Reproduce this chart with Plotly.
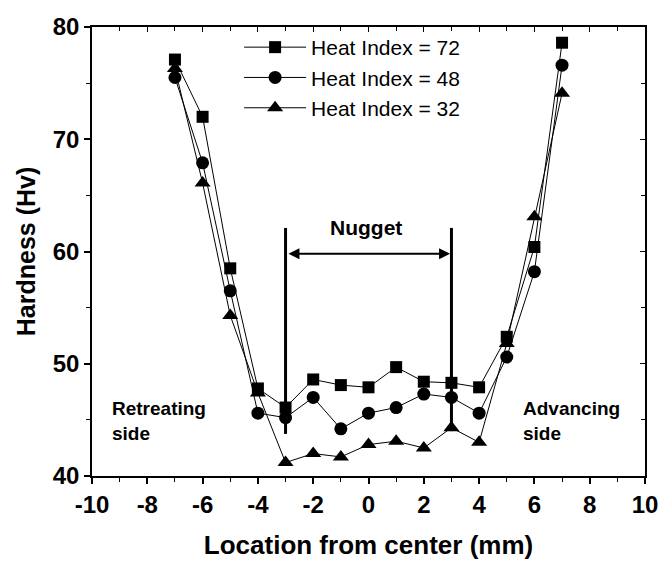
import plotly.graph_objects as go

# ---- data ----
location = [-7, -6, -5, -4, -3, -2, -1, 0, 1, 2, 3, 4, 5, 6, 7]
hi72 = [77.1, 72.0, 58.5, 47.8, 46.1, 48.6, 48.1, 47.9, 49.7, 48.4, 48.3, 47.9, 52.4, 60.4, 78.6]
hi48 = [75.5, 67.9, 56.5, 45.6, 45.2, 47.0, 44.2, 45.6, 46.1, 47.3, 47.0, 45.6, 50.6, 58.2, 76.6]
hi32 = [76.3, 66.1, 54.3, 47.4, 41.2, 42.0, 41.7, 42.8, 43.1, 42.5, 44.3, 43.0, 51.8, 63.1, 74.1]
series_names = ["Heat Index = 72", "Heat Index = 48", "Heat Index = 32"]
nugget_left, nugget_right = -3, 3
nugget_left_span = [43.75, 62.1]
nugget_right_span = [44.0, 62.1]
arrow_y = 59.8
x_ticks = [-10, -8, -6, -4, -2, 0, 2, 4, 6, 8, 10]
x_tick_labels = ["-10", "-8", "-6", "-4", "-2", "0", "2", "4", "6", "8", "10"]
y_ticks = [40, 50, 60, 70, 80]
y_tick_labels = ["40", "50", "60", "70", "80"]

FONT = "Arial, Liberation Sans, sans-serif"

fig = go.Figure()
symbols = ["square", "circle", "triangle-up"]
sizes = [12, 13, 14]
for name, ys, sym, sz in zip(series_names, [hi72, hi48, hi32], symbols, sizes):
    fig.add_trace(go.Scatter(
        x=location, y=ys, name=name, mode="lines+markers",
        line=dict(color="black", width=1),
        marker=dict(symbol=sym, size=sz, color="black"),
    ))
# helper trace for the top/right frame axes
fig.add_trace(go.Scatter(x=[None], y=[None], xaxis="x2", yaxis="y2", showlegend=False, hoverinfo="skip"))

# Nugget boundary lines
fig.add_shape(type="line", x0=nugget_left, x1=nugget_left, y0=nugget_left_span[0], y1=nugget_left_span[1],
              xref="x", yref="y", line=dict(color="black", width=3))
fig.add_shape(type="line", x0=nugget_right, x1=nugget_right, y0=nugget_right_span[0], y1=nugget_right_span[1],
              xref="x", yref="y", line=dict(color="black", width=3))
# double arrow
fig.add_annotation(x=nugget_right - 0.05, y=arrow_y, ax=nugget_left + 0.05, ay=arrow_y,
                   xref="x", yref="y", axref="x", ayref="y", text="",
                   showarrow=True, arrowhead=2, arrowside="end+start", arrowwidth=2.2,
                   arrowsize=1, arrowcolor="black", standoff=0, startstandoff=0)

fig.add_annotation(x=-0.1, y=62.1, xref="x", yref="y", text="<b>Nugget</b>", showarrow=False,
                   font=dict(family=FONT, size=21, color="black"), yanchor="middle")
fig.add_annotation(x=-9.35, y=44.9, xref="x", yref="y", text="<b>Retreating<br>side</b>", showarrow=False,
                   align="left", xanchor="left", yanchor="middle",
                   font=dict(family=FONT, size=19, color="black"))
fig.add_annotation(x=5.5, y=44.9, xref="x", yref="y", text="<b>Advancing<br>side</b>", showarrow=False,
                   align="left", xanchor="left", yanchor="middle",
                   font=dict(family=FONT, size=19, color="black"))

axis_common = dict(showline=True, linecolor="black", linewidth=1.5, showgrid=False, zeroline=False,
                   ticks="outside", ticklen=6, tickwidth=1.5, tickcolor="black",
                   tickfont=dict(family=FONT, size=24, color="black"))

fig.update_layout(
    width=670, height=571,
    margin=dict(l=92, r=23, t=27, b=95),
    paper_bgcolor="white", plot_bgcolor="white",
    showlegend=True,
    legend=dict(x=0.266, y=1.0, xanchor="left", yanchor="top", bgcolor="rgba(0,0,0,0)",
                font=dict(family=FONT, size=21, color="black"), itemwidth=62,
                tracegroupgap=0),
    xaxis=dict(range=[-10, 10], tickvals=x_ticks, ticktext=["<b>%s</b>" % t for t in x_tick_labels],
               minor=dict(dtick=1, ticks="outside", ticklen=4, tickcolor="black", tickwidth=1.2),
               title=dict(text="<b>Location from center (mm)</b>", standoff=19,
                          font=dict(family=FONT, size=26, color="black")),
               **axis_common),
    yaxis=dict(range=[40, 80], tickvals=y_ticks, ticktext=["<b>%s</b>" % t for t in y_tick_labels],
               minor=dict(dtick=5, ticks="outside", ticklen=4, tickcolor="black", tickwidth=1.2),
               title=dict(text="<b>Hardness (Hv)</b>", standoff=10,
                          font=dict(family=FONT, size=25, color="black")),
               **axis_common),
    xaxis2=dict(range=[-10, 10], overlaying="x", side="top", anchor="y2", showline=True,
                linecolor="black", linewidth=1.5, showgrid=False, zeroline=False,
                tickvals=x_ticks, ticks="inside", ticklen=5, tickwidth=1.2, tickcolor="black",
                showticklabels=False,
                minor=dict(dtick=1, ticks="inside", ticklen=4, tickcolor="black", tickwidth=1.2)),
    yaxis2=dict(range=[40, 80], overlaying="y", side="right", anchor="x2", showline=True,
                linecolor="black", linewidth=1.5, showgrid=False, zeroline=False,
                tickvals=y_ticks, ticks="inside", ticklen=5, tickwidth=1.2, tickcolor="black",
                showticklabels=False,
                minor=dict(dtick=5, ticks="inside", ticklen=4, tickcolor="black", tickwidth=1.2)),
)

fig.write_html("out.html")
